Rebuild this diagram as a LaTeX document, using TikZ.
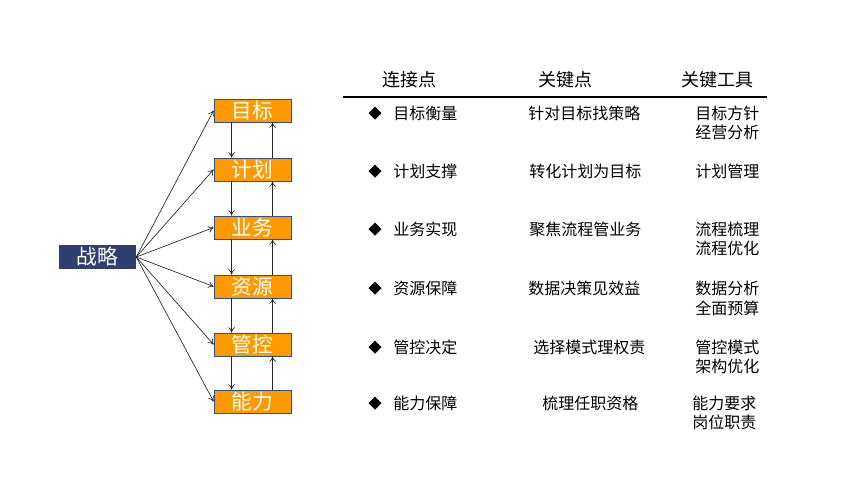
\documentclass[tikz,border=0pt]{standalone}
\usepackage{fontspec}
\setmainfont{Noto Sans CJK SC}
\usetikzlibrary{calc,arrows.meta}
\definecolor{navy}{HTML}{2E3F70}
\definecolor{orng}{HTML}{FF9900}
\definecolor{bdr}{HTML}{2F4F8F}
\begin{document}
\begin{tikzpicture}[x=0.75pt,y=-0.75pt,
  obox/.style={draw=bdr,line width=0.6pt,fill=orng,minimum width=57.75pt,minimum height=17.25pt,inner sep=0pt,text=white,font=\fontsize{15.5pt}{16pt}\selectfont},
  sbox/.style={fill=navy,minimum width=57.75pt,minimum height=18pt,inner sep=0pt,text=white,font=\fontsize{15.5pt}{16pt}\selectfont},
  arr/.style={-{To[length=4pt,width=5pt]},line width=0.5pt,draw=black!85},
  hd/.style={font=\fontsize{13.5pt}{15pt}\selectfont,inner sep=0pt},
  tx/.style={font=\fontsize{12pt}{13pt}\selectfont,inner sep=0pt,anchor=west},
  dia/.style={fill=black,inner sep=0pt}
]
\useasboundingbox (0,0) rectangle (845,501);
\node[sbox] (s) at (97.5,257) {战略};
\node[obox] (b1) at (252.5,110.5) {目标};
\node[obox] (b2) at (252.5,169.5) {计划};
\node[obox] (b3) at (252.5,227.5) {业务};
\node[obox] (b4) at (252.5,286.5) {资源};
\node[obox] (b5) at (252.5,344.5) {管控};
\node[obox] (b6) at (252.5,401.5) {能力};
\foreach \i in {1,...,6}{\draw[arr] (s.east) -- (b\i.west);}
\foreach \a/\b in {1/2,2/3,3/4,4/5,5/6}{
  \draw[arr] ($(b\a.south west)+(18,0)$) -- ($(b\b.north west)+(18,0)$);
  \draw[arr] ($(b\b.north west)+(59,0)$) -- ($(b\a.south west)+(59,0)$);
}
% headers
\node[hd] (h1) at (409,80) {连接点};
\node[hd] (h2) at (565,80) {关键点};
\node[hd] (h3) at (717,80) {关键工具};
\coordinate (l1) at (343,97);
\coordinate (l2) at (767,97);
\draw[line width=0.8pt] (l1) -- (l2);
% diamonds
\foreach \y [count=\k] in {113,171,229,288,347,403}{
  \path[dia] (375,\y-6.5) -- (381.5,\y) -- (375,\y+6.5) -- (368.5,\y) -- cycle;
}
% column 1
\node[tx] (c11) at (393,113) {目标衡量};
\node[tx] (c12) at (393,171) {计划支撑};
\node[tx] (c13) at (393,229) {业务实现};
\node[tx] (c14) at (393,288) {资源保障};
\node[tx] (c15) at (393,347) {管控决定};
\node[tx] (c16) at (393,403) {能力保障};
% column 2
\node[tx] (c21) at (528,113) {针对目标找策略};
\node[tx] (c22) at (529,171) {转化计划为目标};
\node[tx] (c23) at (529,229) {聚焦流程管业务};
\node[tx] (c24) at (528,288) {数据决策见效益};
\node[tx] (c25) at (533,347) {选择模式理权责};
\node[tx] (c26) at (542,403) {梳理任职资格};
% column 3
\node[tx] (c31a) at (695,113) {目标方针};
\node[tx] (c31b) at (695,132) {经营分析};
\node[tx] (c32) at (695,171) {计划管理};
\node[tx] (c33a) at (695,229) {流程梳理};
\node[tx] (c33b) at (695,248) {流程优化};
\node[tx] (c34a) at (695,288) {数据分析};
\node[tx] (c34b) at (695,308) {全面预算};
\node[tx] (c35a) at (695,347) {管控模式};
\node[tx] (c35b) at (695,366) {架构优化};
\node[tx] (c36a) at (692,403) {能力要求};
\node[tx] (c36b) at (692,422) {岗位职责};
\end{tikzpicture}
\end{document}
